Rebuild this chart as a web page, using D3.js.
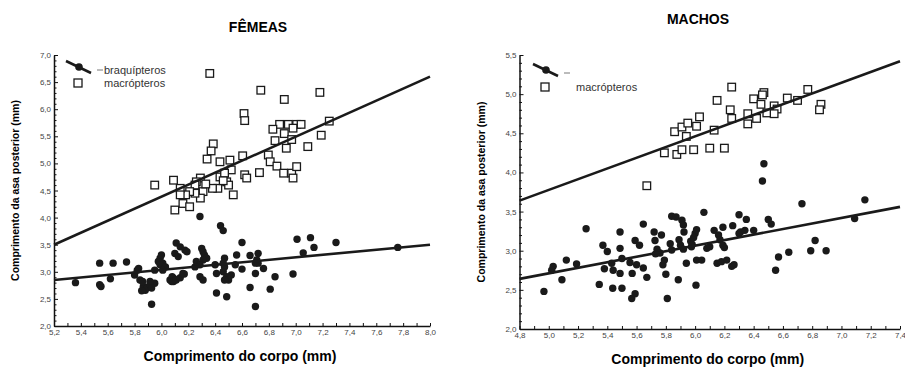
<!DOCTYPE html>
<html>
<head>
<meta charset="utf-8">
<title>Asa posterior x corpo</title>
<script src="https://d3js.org/d3.v7.min.js"></script>
<style>
  body { margin: 0; background: #fff; }
  svg { font-family: "Liberation Sans", Arial, sans-serif; }
  .tick text { font-size: 8px; fill: #444; }
  .axis path, .axis line { stroke: #111; }
  .title { font-weight: bold; font-size: 14px; }
  .xlabel { font-weight: bold; font-size: 14px; }
  .ylabel { font-weight: bold; font-size: 10.5px; }
  .fit { stroke: #1a1a1a; stroke-width: 2.6px; fill: none; }
  .dot { fill: #1a1a1a; }
  .sq { fill: #fff; stroke: #1a1a1a; stroke-width: 1.3px; }
  .leg { font-size: 11px; fill: #333; }
</style>
</head>
<body>
<div id="chart"></div>
<script>
// ---- FÊMEAS (corpo, asa) ----
var femBraq = [
  [5.36,2.80],[5.54,3.16],[5.54,2.76],[5.55,2.73],[5.64,3.16],[5.62,2.87],[5.74,3.18],
  [5.82,3.03],[5.83,3.06],[5.80,2.94],[5.84,2.85],[5.865,2.73],[5.88,2.66],[5.895,2.71],
  [5.915,2.76],[5.95,2.79],[5.915,2.82],[5.86,2.82],[5.853,2.65],[5.927,2.70],[5.927,2.40],
  [5.95,3.03],[5.99,3.25],[5.977,3.19],[6.00,3.31],[6.01,3.16],[5.99,3.13],[6.03,3.09],
  [6.01,3.03],[6.064,2.85],[6.076,2.82],[6.09,2.88],[6.08,2.91],[6.09,2.82],[6.11,2.85],
  [6.14,2.89],[6.16,2.97],[6.17,2.96],[6.11,3.53],[6.14,3.46],[6.175,3.40],[6.10,3.34],
  [6.125,3.28],[6.19,3.37],[6.30,3.43],[6.31,3.37],[6.32,3.31],[6.337,3.25],[6.31,3.22],
  [6.26,3.19],[6.287,3.13],[6.25,3.09],[6.287,2.91],[6.31,2.85],[6.287,4.02],[6.44,3.85],
  [6.46,3.76],[6.40,3.13],[6.41,2.97],[6.41,2.61],[6.486,2.54],[6.47,3.25],[6.46,3.16],
  [6.47,3.09],[6.46,3.00],[6.486,2.91],[6.50,2.85],[6.52,2.94],[6.47,2.85],[6.55,3.13],
  [6.56,3.31],[6.60,3.54],[6.60,3.05],[6.66,3.30],[6.72,3.34],[6.70,3.16],[6.72,3.16],
  [6.71,3.22],[6.76,3.06],[6.70,2.97],[6.66,2.71],[6.70,2.36],[6.81,2.68],[6.846,2.91],
  [6.98,2.96],[7.01,3.60],[7.11,3.63],[7.056,3.35],[7.136,3.45],[7.30,3.54],[7.76,3.45]
];
var femMacro = [
  [6.36,6.66],[6.74,6.35],[6.915,6.18],[7.18,6.31],[6.615,5.92],[6.62,5.79],[7.25,5.78],
  [6.88,5.72],[6.83,5.63],[6.945,5.72],[7.007,5.72],[7.04,5.72],[6.915,5.55],[6.98,5.65],
  [6.97,5.44],[6.846,5.42],[7.19,5.52],[6.93,5.28],[7.09,5.31],[6.386,5.36],[6.37,5.23],
  [6.34,5.08],[6.436,5.03],[6.51,5.06],[6.605,5.14],[6.796,5.155],[6.81,5.03],[6.86,4.95],
  [6.91,4.82],[6.97,4.82],[7.007,4.94],[6.98,4.73],[6.52,4.88],[6.436,4.75],[6.47,4.82],
  [6.486,4.66],[6.50,4.60],[6.62,4.79],[6.635,4.73],[6.73,4.83],[6.42,4.54],[6.38,4.54],
  [6.29,4.73],[6.26,4.66],[6.25,4.60],[6.31,4.48],[6.29,4.36],[6.25,4.45],[6.21,4.48],
  [6.18,4.42],[6.14,4.54],[6.09,4.69],[6.14,4.42],[6.16,4.26],[6.10,4.14],[6.21,4.20],
  [5.95,4.60],[6.535,4.42],[6.46,4.68],[6.33,4.62]
];
var femFitMacro = [[5.2,3.50],[8.0,6.60]];
var femFitBraq = [[5.2,2.85],[8.0,3.50]];

// ---- MACHOS (corpo, asa) ----
var macBraq = [
  [4.967,2.48],[5.03,2.80],[5.02,2.75],[5.09,2.63],[5.12,2.88],[5.19,2.83],[5.255,3.28],
  [5.345,2.57],[5.37,3.07],[5.40,2.99],[5.38,2.77],[5.43,2.84],[5.44,2.75],[5.437,2.52],
  [5.487,3.24],[5.487,3.03],[5.50,2.90],[5.487,2.71],[5.50,2.52],[5.555,2.85],[5.57,2.71],
  [5.59,3.13],[5.62,3.07],[5.59,2.45],[5.567,2.39],[5.60,2.82],[5.646,3.34],[5.646,2.78],
  [5.67,2.66],[5.72,3.24],[5.77,3.20],[5.726,3.13],[5.74,3.02],[5.76,2.97],[5.73,2.96],
  [5.78,2.82],[5.79,2.88],[5.80,2.70],[5.81,2.39],[5.84,3.44],[5.87,3.43],[5.83,3.09],
  [5.84,3.01],[5.885,2.63],[5.91,3.39],[5.92,3.33],[5.924,3.24],[5.89,3.14],[5.90,3.07],
  [5.92,3.02],[5.94,2.84],[5.97,3.12],[5.98,3.08],[6.00,3.22],[6.01,3.27],[5.99,3.17],
  [5.975,3.05],[6.006,2.56],[6.01,2.88],[6.045,2.88],[6.06,3.49],[6.08,3.03],[6.10,3.05],
  [6.13,3.26],[6.16,3.20],[6.17,3.14],[6.19,3.07],[6.20,3.04],[6.19,3.30],[6.15,2.84],
  [6.18,2.86],[6.216,2.88],[6.25,2.80],[6.266,2.82],[6.257,3.32],[6.30,3.46],[6.30,3.22],
  [6.31,3.24],[6.35,3.40],[6.34,3.26],[6.40,3.26],[6.47,4.11],[6.46,3.89],[6.50,3.40],
  [6.52,3.34],[6.55,2.75],[6.57,2.92],[6.64,2.98],[6.73,3.60],[6.79,3.00],[6.82,3.13],
  [6.895,3.00],[7.09,3.41],[7.16,3.65]
];
var macMacro = [
  [5.67,3.83],[5.79,4.25],[5.875,4.23],[5.91,4.29],[5.99,4.29],[6.10,4.31],[6.20,4.31],
  [5.86,4.52],[5.91,4.58],[5.95,4.63],[5.94,4.46],[6.01,4.59],[6.03,4.71],[6.13,4.54],
  [6.15,4.92],[6.25,5.09],[6.24,4.80],[6.25,4.69],[6.36,4.75],[6.36,4.62],[6.42,4.69],
  [6.40,4.94],[6.47,5.02],[6.46,4.99],[6.45,4.87],[6.49,4.76],[6.54,4.85],[6.56,4.81],
  [6.54,4.75],[6.63,4.95],[6.70,4.92],[6.77,5.06],[6.86,4.87],[6.85,4.80]
];
var macFitMacro = [[4.8,3.64],[7.4,5.42]];
var macFitBraq = [[4.8,2.64],[7.4,3.56]];

var W = 905, H = 367;
var svg = d3.select("#chart").append("svg").attr("width", W).attr("height", H);

function fmt(v) { return d3.format(".1f")(v).replace(".", ","); }

function panel(o) {
  var x = d3.scaleLinear().domain(o.xDom).range(o.xRange);
  var y = d3.scaleLinear().domain(o.yDom).range(o.yRange);
  var g = svg.append("g");

  var xt = d3.range(Math.round((o.xDom[1] - o.xDom[0]) * 10) + 1).map(function(i) { return +(o.xDom[0] + i * 0.1).toFixed(1); });
  var yt = d3.range(Math.round((o.yDom[1] - o.yDom[0]) * 10) + 1).map(function(i) { return +(o.yDom[0] + i * 0.1).toFixed(1); });

  var gx = g.append("g").attr("class", "axis")
    .attr("transform", "translate(0," + o.yRange[0] + ")")
    .call(d3.axisBottom(x).tickValues(xt).tickSizeInner(-3).tickSizeOuter(0).tickPadding(3)
      .tickFormat(function(d) { return Math.round(d * 10) % 2 === 0 ? fmt(d) : ""; }));
  gx.select(".domain").attr("stroke-width", 1.5);

  var gy = g.append("g").attr("class", "axis")
    .attr("transform", "translate(" + o.xRange[0] + ",0)")
    .call(d3.axisLeft(y).tickValues(yt).tickSizeInner(-3).tickSizeOuter(0).tickPadding(3)
      .tickFormat(function(d) { return Math.round(d * 10) % 5 === 0 ? fmt(d) : ""; }));
  gy.select(".domain").attr("stroke-width", 1.5);
  gy.selectAll(".tick line").attr("x2", function(d) { return Math.round(d * 10) % 5 === 0 ? 4 : 2.5; });

  var line = d3.line().x(function(d) { return x(d[0]); }).y(function(d) { return y(d[1]); });

  g.append("g").selectAll("circle").data(o.braq).enter().append("circle")
    .attr("class", "dot").attr("r", 3.7)
    .attr("cx", function(d) { return x(d[0]); })
    .attr("cy", function(d) { return y(d[1]); });

  g.append("g").selectAll("rect").data(o.macro).enter().append("rect")
    .attr("class", "sq").attr("width", 7.6).attr("height", 7.6)
    .attr("x", function(d) { return x(d[0]) - 3.8; })
    .attr("y", function(d) { return y(d[1]) - 3.8; });

  g.append("path").attr("class", "fit").attr("d", line(o.fitMacro));
  g.append("path").attr("class", "fit").attr("d", line(o.fitBraq));

  svg.append("text").attr("class", "title").attr("text-anchor", "middle")
    .attr("x", o.title[1]).attr("y", o.title[2]).text(o.title[0]);
  svg.append("text").attr("class", "xlabel").attr("text-anchor", "middle")
    .attr("x", (o.xRange[0] + o.xRange[1]) / 2 - 2).attr("y", o.yRange[0] + 35)
    .text("Comprimento do corpo (mm)");
  svg.append("text").attr("class", "ylabel").attr("text-anchor", "middle")
    .attr("transform", "translate(" + (o.xRange[0] - 35) + "," + (o.yRange[0] + o.yRange[1]) / 2 + ") rotate(-90)")
    .text("Comprimento da asa posterior (mm)");

  // legend
  var L = o.legend;
  g.append("line").attr("x1", L.x).attr("y1", L.y - 5).attr("x2", L.x + 25).attr("y2", L.y + 7)
    .attr("stroke", "#1a1a1a").attr("stroke-width", 2.6);
  g.append("circle").attr("class", "dot").attr("r", 3.8).attr("cx", L.x + 13).attr("cy", L.y + 1);
  g.append("line").attr("x1", L.x + 31).attr("x2", L.x + 37).attr("y1", L.y + 4).attr("y2", L.y + 4)
    .attr("stroke", "#555").attr("stroke-width", 0.8);
  if (L.braqText) {
    g.append("text").attr("class", "leg").attr("x", L.x + 38).attr("y", L.y + 8).text("braquípteros");
  }
  g.append("rect").attr("class", "sq").attr("width", 8).attr("height", 8)
    .attr("x", L.x + 8).attr("y", L.sqY - 4);
  g.append("text").attr("class", "leg").attr("x", L.textX).attr("y", L.sqY + 4).text("macrópteros");
}

panel({
  xDom: [5.2, 8.0], xRange: [54, 430],
  yDom: [2, 7], yRange: [326, 55],
  braq: femBraq, macro: femMacro, fitMacro: femFitMacro, fitBraq: femFitBraq,
  title: ["FÊMEAS", 258, 32],
  legend: { x: 66, y: 66, sqY: 83, textX: 104, braqText: true }
});

panel({
  xDom: [4.8, 7.4], xRange: [519.5, 900],
  yDom: [2, 5.5], yRange: [329, 55],
  braq: macBraq, macro: macMacro, fitMacro: macFitMacro, fitBraq: macFitBraq,
  title: ["MACHOS", 698, 24],
  legend: { x: 533, y: 69, sqY: 87, textX: 576, braqText: false }
});
</script>
</body>
</html>
